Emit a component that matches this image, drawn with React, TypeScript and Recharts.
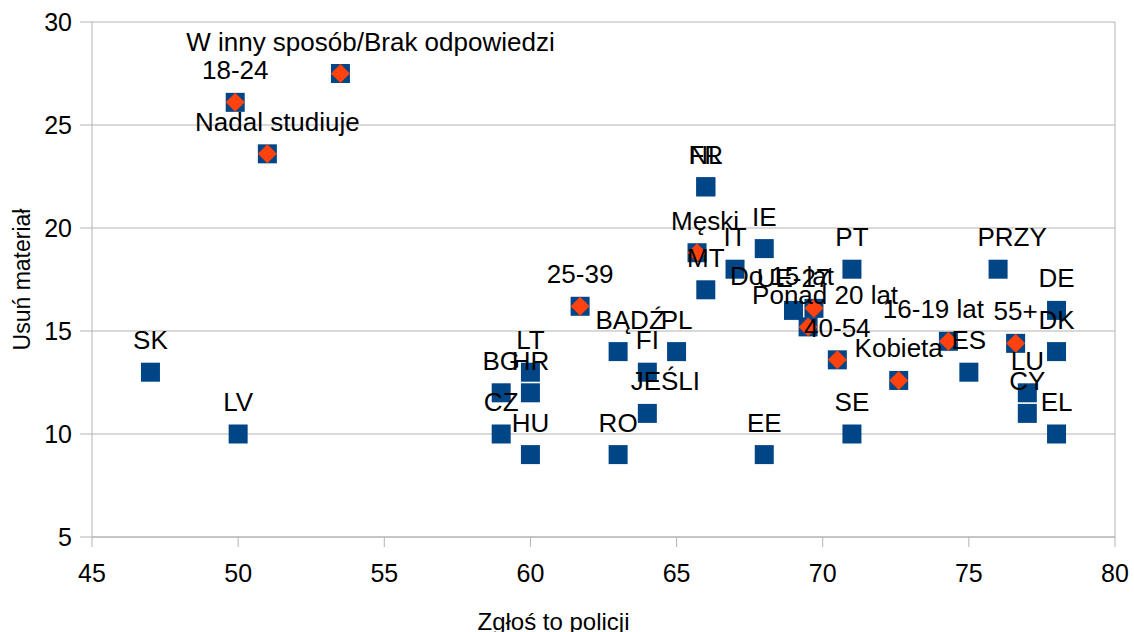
import {
  ScatterChart,
  Scatter,
  XAxis,
  YAxis,
  CartesianGrid,
  ReferenceLine,
} from "recharts";

// Countries (blue squares)
const countryNames = [
  "SK", "LV", "BG", "CZ", "LT", "HR", "HU", "RO", "BĄDŹ", "FI", "JEŚLI", "PL",
  "FR", "NL", "MT", "IT", "IE", "EE", "UE-27", "PT", "SE", "ES", "PRZY", "LU",
  "CY", "DE", "DK", "EL",
];
const countryReport = [
  47, 50, 59, 59, 60, 60, 60, 63, 63, 64, 64, 65, 66, 66, 66, 67, 68, 68, 69, 71,
  71, 75, 76, 77, 77, 78, 78, 78,
];
const countryRemove = [
  13, 10, 12, 10, 13, 12, 9, 9, 14, 13, 11, 14, 22, 22, 17, 18, 19, 9, 16, 18,
  10, 13, 18, 12, 11, 16, 14, 10,
];

// Demographic groups (orange diamonds on top of squares)
const groupNames = [
  "W inny sposób/Brak odpowiedzi", "18-24", "Nadal studiuje", "25-39", "Męski",
  "Do 15 lat", "Ponad 20 lat", "40-54", "Kobieta", "16-19 lat", "55+",
];
const groupReport = [53.5, 49.9, 51.0, 61.7, 65.7, 69.7, 69.5, 70.5, 72.6, 74.3, 76.6];
const groupRemove = [27.5, 26.1, 23.6, 16.2, 18.8, 16.1, 15.2, 13.6, 12.6, 14.5, 14.4];

const xTicks = [45, 50, 55, 60, 65, 70, 75, 80];
const yTicks = [5, 10, 15, 20, 25, 30];

// horizontal nudges of a few data labels, as in the original
const labelShift: Record<string, number> = {
  "W inny sposób/Brak odpowiedzi": 30,
  "Nadal studiuje": 10,
  "BĄDŹ": 12,
  "JEŚLI": 18,
  "Ponad 20 lat": 17,
  "Do 15 lat": -32,
  "16-19 lat": -15,
  "Męski": 8,
  "PRZY": 14,
};

const FONT = "'Liberation Sans', Arial, sans-serif";
const BLUE = "#004586";
const ORANGE = "#ff420e";
const GRID = "#b3b3b3";

const countries = countryNames.map((name, i) => ({
  name,
  x: countryReport[i],
  y: countryRemove[i],
}));
const groups = groupNames.map((name, i) => ({
  name,
  x: groupReport[i],
  y: groupRemove[i],
}));
const allPoints = [...countries, ...groups];

function SquareShape(props: any) {
  const { cx, cy } = props;
  const s = 19;
  return <rect x={cx - s / 2} y={cy - s / 2} width={s} height={s} fill={BLUE} />;
}

function DiamondShape(props: any) {
  const { cx, cy } = props;
  const r = 9.5;
  return (
    <path
      d={`M${cx},${cy - r} L${cx + r},${cy} L${cx},${cy + r} L${cx - r},${cy} Z`}
      fill={ORANGE}
    />
  );
}

function LabelShape(props: any) {
  const { cx, cy } = props;
  const name = props.payload?.name ?? props.name;
  const dx = labelShift[name] ?? 0;
  return (
    <text
      x={cx + dx}
      y={cy - 23}
      textAnchor="middle"
      fontSize={26}
      fontFamily={FONT}
      fill="#000"
    >
      {name}
    </text>
  );
}

export default function App() {
  return (
    <div style={{ position: "absolute", left: 0, top: 0, background: "#fff" }}>
      <ScatterChart
        width={1134}
        height={632}
        margin={{ top: 22, right: 19, bottom: 0, left: 0 }}
      >
        <CartesianGrid horizontal vertical={false} stroke={GRID} />
        <XAxis
          type="number"
          dataKey="x"
          domain={[45, 80]}
          ticks={xTicks}
          allowDataOverflow
          height={95}
          stroke={GRID}
          tickSize={10}
          tickMargin={17}
          tick={{ fill: "#000", fontSize: 25, fontFamily: FONT }}
          label={{
            content: (p: any) => {
              const vb = p.viewBox;
              return (
                <text
                  x={vb.x + vb.width / 2 - 50}
                  y={vb.y + 93}
                  textAnchor="middle"
                  fontSize={24}
                  fontFamily={FONT}
                  fill="#000"
                >
                  Zgłoś to policji
                </text>
              );
            },
          }}
        />
        <YAxis
          type="number"
          dataKey="y"
          domain={[5, 30]}
          ticks={yTicks}
          allowDataOverflow
          width={92}
          stroke={GRID}
          tickSize={12}
          tickMargin={8}
          tick={{ fill: "#000", fontSize: 25, fontFamily: FONT }}
          label={{
            content: (p: any) => {
              const vb = p.viewBox;
              const lx = vb.x + 30;
              const ly = vb.y + vb.height / 2;
              return (
                <text
                  x={lx}
                  y={ly}
                  transform={`rotate(-90 ${lx} ${ly})`}
                  textAnchor="middle"
                  fontSize={23}
                  fontFamily={FONT}
                  fill="#000"
                >
                  Usuń materiał
                </text>
              );
            },
          }}
        />
        <ReferenceLine x={80} stroke={GRID} />
        <Scatter data={allPoints} shape={SquareShape} isAnimationActive={false} />
        <Scatter data={groups} shape={DiamondShape} isAnimationActive={false} />
        <Scatter data={allPoints} shape={LabelShape} isAnimationActive={false} />
      </ScatterChart>
    </div>
  );
}
